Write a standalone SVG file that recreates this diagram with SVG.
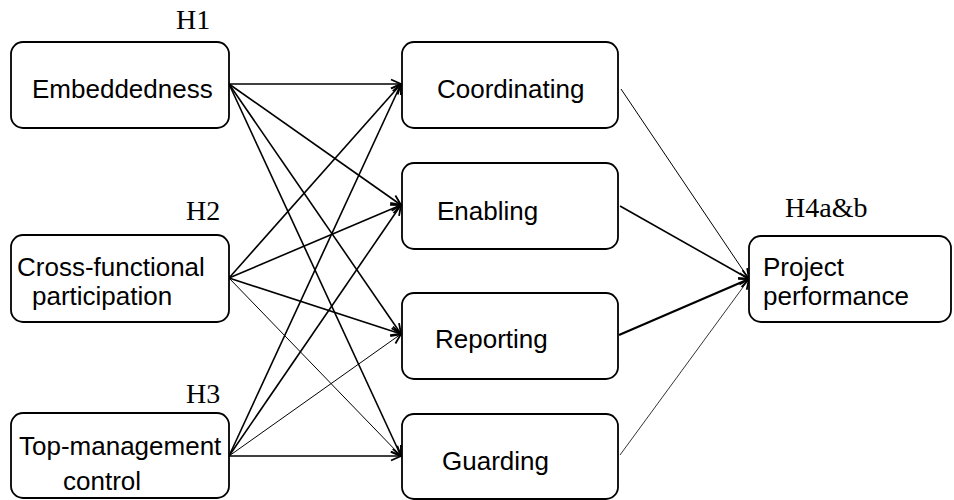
<svg xmlns="http://www.w3.org/2000/svg" width="954" height="500" viewBox="0 0 954 500">
<style>
.box{fill:#fff;stroke:#000;stroke-width:1.8}
.t{font-family:"Liberation Sans",Arial,sans-serif;font-size:26px;fill:#000}
.h{font-family:"Liberation Serif","Times New Roman",serif;font-size:28px;fill:#000}
.c{fill:none;stroke:#000;stroke-width:1.6}
.thin{stroke-width:1}
.thick{stroke-width:2.2}
</style>
<defs>
<marker id="ah" markerUnits="userSpaceOnUse" viewBox="0 0 12 12" refX="11" refY="6" markerWidth="12" markerHeight="12" orient="auto">
<path d="M1,1.5 L11,6 L1,10.5" fill="none" stroke="#000" stroke-width="1.8"/>
</marker>
</defs>
<rect width="954" height="500" fill="#fff"/>
<g id="connectors">
<line class="c" x1="229" y1="84" x2="401" y2="84" marker-end="url(#ah)"/>
<line class="c" x1="229" y1="84" x2="401" y2="205" marker-end="url(#ah)"/>
<line class="c" x1="229" y1="84" x2="401" y2="334" marker-end="url(#ah)"/>
<line class="c" x1="229" y1="84" x2="401" y2="456" marker-end="url(#ah)"/>
<line class="c" x1="229" y1="278" x2="401" y2="84" marker-end="url(#ah)"/>
<line class="c" x1="229" y1="278" x2="401" y2="205" marker-end="url(#ah)"/>
<line class="c" x1="229" y1="278" x2="401" y2="334" marker-end="url(#ah)"/>
<line class="c thin" x1="229" y1="278" x2="401" y2="456" marker-end="url(#ah)"/>
<line class="c" x1="229" y1="456" x2="401" y2="84" marker-end="url(#ah)"/>
<line class="c" x1="229" y1="456" x2="401" y2="205" marker-end="url(#ah)"/>
<line class="c thin" x1="229" y1="456" x2="401" y2="334" marker-end="url(#ah)"/>
<line class="c" x1="229" y1="456" x2="401" y2="456" marker-end="url(#ah)"/>
<line class="c thin" x1="621" y1="89" x2="749" y2="279" marker-end="url(#ah)"/>
<line class="c" x1="620" y1="206" x2="749" y2="279" marker-end="url(#ah)"/>
<line class="c thick" x1="619" y1="335" x2="749" y2="279" marker-end="url(#ah)"/>
<line class="c" style="stroke-width:0.8" x1="620" y1="455" x2="749" y2="279" marker-end="url(#ah)"/>
</g>
<g id="embeddedness">
<rect class="box" x="11" y="42" width="218" height="86" rx="12"/>
<text class="t" x="32" y="98">Embeddedness</text>
<text class="h" x="176" y="29">H1</text>
</g>
<g id="cross-functional">
<rect class="box" x="11" y="235" width="218" height="87" rx="12"/>
<text class="t" x="17" y="276">Cross-functional</text>
<text class="t" x="32" y="305.2">participation</text>
<text class="h" x="186" y="220">H2</text>
</g>
<g id="top-management">
<rect class="box" x="11" y="413" width="218" height="85" rx="12"/>
<text class="t" x="19" y="455">Top-management</text>
<text class="t" x="63" y="490">control</text>
<text class="h" x="186" y="403">H3</text>
</g>
<g id="coordinating">
<rect class="box" x="402" y="42" width="216" height="86" rx="12"/>
<text class="t" x="437" y="98">Coordinating</text>
</g>
<g id="enabling">
<rect class="box" x="402" y="163" width="216" height="86" rx="12"/>
<text class="t" x="437" y="220">Enabling</text>
</g>
<g id="reporting">
<rect class="box" x="402" y="293" width="216" height="86" rx="12"/>
<text class="t" x="435" y="348">Reporting</text>
</g>
<g id="guarding">
<rect class="box" x="402" y="414" width="216" height="85" rx="12"/>
<text class="t" x="442" y="470">Guarding</text>
</g>
<g id="project-performance">
<rect class="box" x="749" y="236" width="202" height="86" rx="12"/>
<text class="t" x="763" y="276">Project</text>
<text class="t" x="763" y="305.2">performance</text>
<text class="h" x="785" y="217">H4a&amp;b</text>
</g>
</svg>
